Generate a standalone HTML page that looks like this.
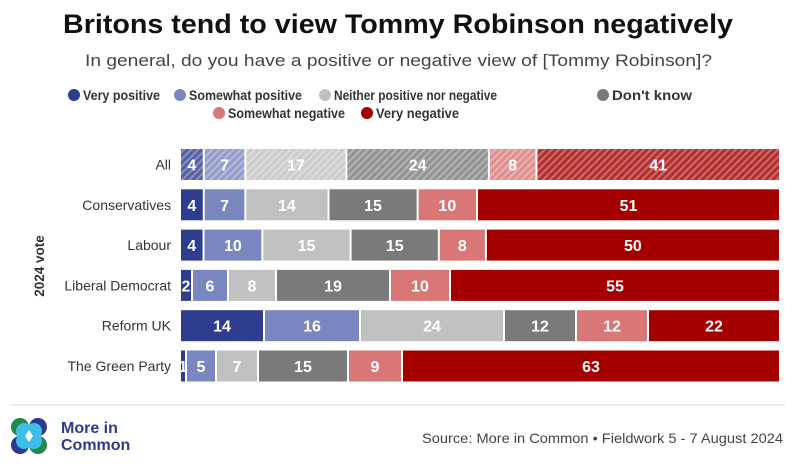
<!DOCTYPE html>
<html><head><meta charset="utf-8"><style>
body{margin:0;background:#fff;width:795px;height:471px;overflow:hidden;font-family:"Liberation Sans",sans-serif}
svg{display:block}
</style></head><body>
<svg id="c" width="795" height="471" xmlns="http://www.w3.org/2000/svg">
<defs>
<pattern id="hatch" width="5" height="5" patternUnits="userSpaceOnUse" patternTransform="rotate(45)">
<rect width="5" height="5" fill="rgba(255,255,255,0)"/>
<rect width="2" height="5" fill="rgba(255,255,255,0.3)"/>
</pattern>
</defs>
<text x="63" y="33" textLength="670" lengthAdjust="spacingAndGlyphs" font-size="27" font-weight="bold" fill="#111">Britons tend to view Tommy Robinson negatively</text>
<text x="85" y="66" textLength="627" lengthAdjust="spacingAndGlyphs" font-size="16.5" fill="#444">In general, do you have a positive or negative view of [Tommy Robinson]?</text>
<g id="legend"></g>
<text transform="translate(44,266) rotate(-90)" text-anchor="middle" font-size="13.5" font-weight="bold" fill="#333">2024 vote</text>
<g id="bars"></g>
<line x1="10" y1="405" x2="785" y2="405" stroke="#ddd" stroke-width="1"/>
<g>
<circle cx="20" cy="427" r="9" fill="#1f8a4c"/><circle cx="38" cy="427" r="9" fill="#2a3b8f"/>
<circle cx="20" cy="445" r="9" fill="#2a3b8f"/><circle cx="38" cy="445" r="9" fill="#1f8a4c"/>
<circle cx="24" cy="431" r="8" fill="#3fbde9"/><circle cx="34" cy="431" r="8" fill="#3fbde9"/>
<circle cx="24" cy="441" r="8" fill="#3fbde9"/><circle cx="34" cy="441" r="8" fill="#3fbde9"/>
<path d="M29 430 L33 436 L29 442 L25 436 Z" fill="#fff"/>
<text x="61" y="433" font-size="16" font-weight="bold" fill="#2a3b8f">More in</text>
<text x="61" y="450" font-size="16" font-weight="bold" fill="#2a3b8f">Common</text>
</g>
<text x="422" y="443" textLength="361" lengthAdjust="spacingAndGlyphs" font-size="14" fill="#444">Source: More in Common • Fieldwork 5 - 7 August 2024</text>
</svg>
<script>
const categories=["All","Conservatives","Labour","Liberal Democrat","Reform UK","The Green Party"];
const seriesNames=["Very positive","Somewhat positive","Neither positive nor negative","Don't know","Somewhat negative","Very negative"];
const veryPositive=[4,4,4,2,14,1];
const somewhatPositive=[7,7,10,6,16,5];
const neither=[17,14,15,8,24,7];
const dontKnow=[24,15,15,19,12,15];
const somewhatNegative=[8,10,8,10,12,9];
const veryNegative=[41,51,50,55,22,63];
const series=[veryPositive,somewhatPositive,neither,dontKnow,somewhatNegative,veryNegative];
const colors=["#2e3d8e","#7a86c0","#c1c1c1","#7a7a7a","#d97676","#a50000"];
const NS="http://www.w3.org/2000/svg";
const bars=document.getElementById('bars'),legend=document.getElementById('legend');
const x0=181,x1=781,yTop=149,pitch=40.3,bh=31;
function mk(t,a,p){const e=document.createElementNS(NS,t);for(const k in a)e.setAttribute(k,a[k]);p.appendChild(e);return e;}
const legPos=[[74,95,77],[180,95,113],[325,95,163],[603,95,80],[219,113,117],[367,113,83]];
seriesNames.forEach((n,i)=>{
 const g=mk('g',{},legend);
 
 
 mk('circle',{cx:legPos[i][0],cy:legPos[i][1],r:6,fill:colors[i]},g);
 const t=mk('text',{x:legPos[i][0]+9,y:legPos[i][1]+5,'font-size':13.5,'font-weight':'bold',fill:'#333',textLength:legPos[i][2],lengthAdjust:'spacingAndGlyphs'},g);t.textContent=n;
});
categories.forEach((c,r)=>{
 const y=yTop+r*pitch;
 const lab=mk('text',{x:171,y:y+bh/2+5,'text-anchor':'end','font-size':14,fill:'#333'},bars);
 lab.textContent=c;
 
 
 let tot=0;series.forEach(s=>tot+=s[r]);
 let cx=x0;
 series.forEach((s,i)=>{
  const w=s[r]/tot*(x1-x0);
  const g=mk('g',{},bars);
  
  
  const op=r===0?0.82:1;
  mk('rect',{x:cx,y:y,width:Math.max(w-2,0.5),height:bh,fill:colors[i],opacity:op},g);
  if(r===0)mk('rect',{x:cx,y:y,width:Math.max(w-2,0.5),height:bh,fill:'url(#hatch)'},g);
  const t=mk('text',{x:cx+(w-2)/2,y:y+bh/2+6,'text-anchor':'middle','font-size':16,'font-weight':'bold',fill:'#fff'},g);
  t.textContent=s[r];
  cx+=w;
 });
});
</script>
</body></html>
